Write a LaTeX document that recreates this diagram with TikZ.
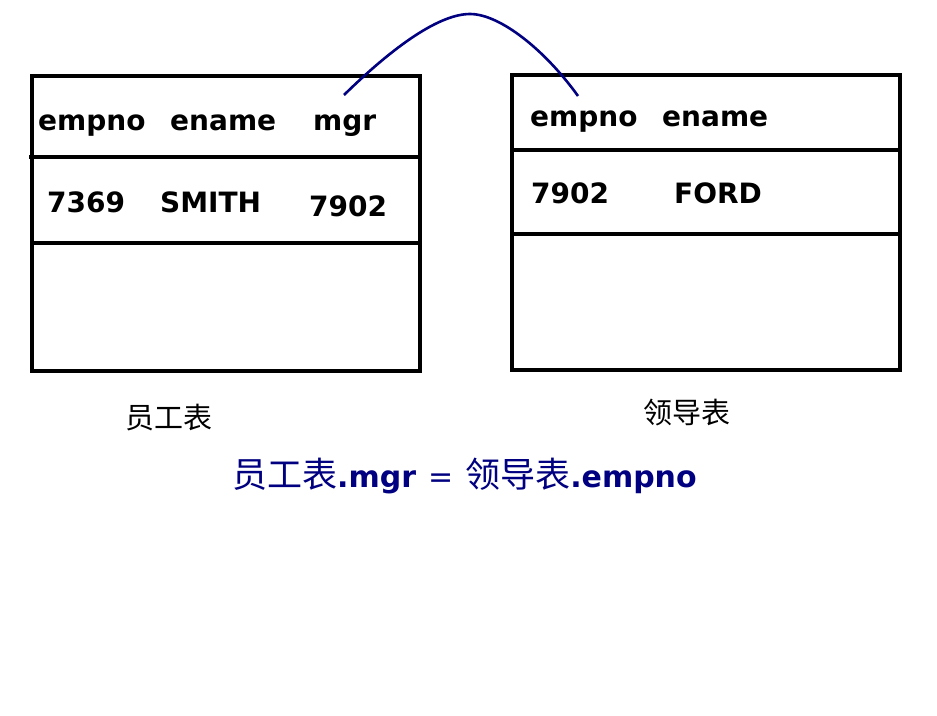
\documentclass[tikz,border=0pt]{standalone}
\usepackage{fontspec}
\usepackage{xcolor}
\usepackage{tikz}
\usetikzlibrary{positioning}
\setmainfont{DejaVu Sans}
\newfontfamily\cjk{Noto Sans CJK SC}
\definecolor{navy}{RGB}{0,0,128}

\begin{document}
\begin{tikzpicture}[x=1pt,y=-1pt,
    tbl/.style={line width=3.2pt},
    cell/.style={anchor=base west,inner sep=0pt,font=\fontsize{28}{30}\selectfont\bfseries},
    tblname/.style={inner sep=0pt,font=\fontsize{29}{30}\selectfont\cjk}]
  \useasboundingbox[fill=white] (0,0) rectangle (937,715);
  % employee table
  \draw[tbl] (32,76) rectangle (420,371);
  \draw[tbl] (29,157)--(418,157); \draw[tbl] (33,243)--(418,243);
  \node[cell] (eno) at (38,130) {empno};
  \node[cell] (ena) at (170,130) {ename};
  \node[cell] (emgr) at (313,130) {mgr};
  \node[cell] (r1) at (47,212) {7369};
  \node[cell] (r2) at (160,212) {SMITH};
  \node[cell] (r3) at (309,216) {7902};
  % leader table
  \draw[tbl] (512,75) rectangle (900,370);
  \draw[tbl] (512,150)--(900,150); \draw[tbl] (510,234)--(900,234);
  \node[cell] (lno) at (530,126) {empno};
  \node[cell] (lna) at (662,126) {ename};
  \node[cell] (l1) at (531,203) {7902};
  \node[cell] (l2) at (674,203) {FORD};
  % link mgr -> empno
  \coordinate (from) at (344,95); \coordinate (top) at (470,14); \coordinate (to) at (578,96);
  \draw[navy,line width=2.6pt] (from) .. controls (395,45) and (440,14) .. (top)
    .. controls (500,14) and (545,50) .. (to);
  \node[tblname] (emp) at (169,418) {员工表};
  \node[tblname] (lead) at (687,413) {领导表};
  \node[anchor=base west,inner sep=0pt,text=navy,font=\fontsize{30}{32}\selectfont] (eq) at (232,487)
    {{\cjk\fontsize{35}{36}\selectfont 员工表}\textbf{.mgr}\hspace{12pt}=\hspace{12pt}{\cjk\fontsize{35}{36}\selectfont 领导表}\textbf{.empno}};
\end{tikzpicture}
\end{document}
